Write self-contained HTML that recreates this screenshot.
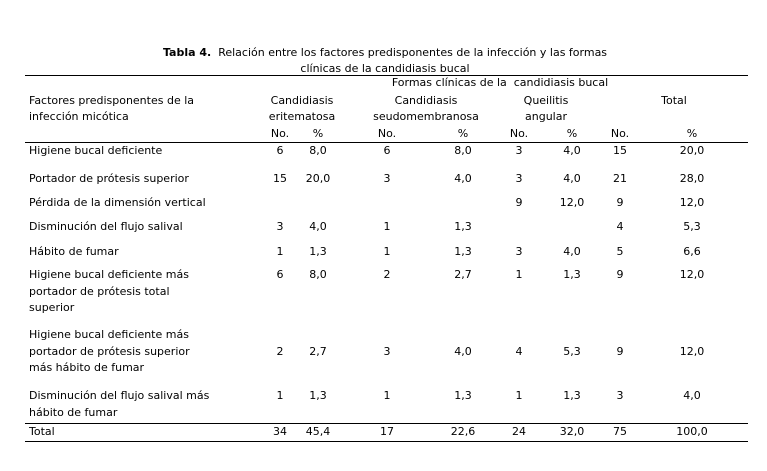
<!DOCTYPE html>
<html><head><meta charset="utf-8"><style>
body{margin:0;width:767px;height:471px;background:#fff;position:relative;font-family:"DejaVu Sans","Liberation Sans",sans-serif;font-size:11px;color:#000;overflow:hidden}
.t{position:absolute;line-height:16px;white-space:nowrap}
.c{position:absolute;line-height:16px;white-space:nowrap;transform:translateX(-50%)}
.l{position:absolute;left:25px;width:723px;height:1px;background:#000}
</style></head><body>
<div class="c" style="left:385px;top:45px"><b>Tabla 4.</b>&nbsp; Relación entre los factores predisponentes de la infección y las formas</div>
<div class="c" style="left:385px;top:61px">clínicas de la candidiasis bucal</div>
<div class="l" style="top:75px"></div>
<div class="l" style="top:142px"></div>
<div class="l" style="top:423px"></div>
<div class="l" style="top:441px"></div>
<div class="c" style="left:500px;top:75px">Formas clínicas de la&nbsp; candidiasis bucal</div>
<div class="t" style="left:29px;top:93px">Factores predisponentes de la</div>
<div class="t" style="left:29px;top:109px">infección micótica</div>
<div class="c" style="left:302px;top:93px">Candidiasis</div>
<div class="c" style="left:302px;top:109px">eritematosa</div>
<div class="c" style="left:426px;top:93px">Candidiasis</div>
<div class="c" style="left:426px;top:109px">seudomembranosa</div>
<div class="c" style="left:546px;top:93px">Queilitis</div>
<div class="c" style="left:546px;top:109px">angular</div>
<div class="c" style="left:674px;top:93px">Total</div>
<div id="rows"></div>
<script>
var cols=[280,318,387,463,519,572,620,692];
var rows=[
[126,["No.","%","No.","%","No.","%","No.","%"],[]],
[143,["6","8,0","6","8,0","3","4,0","15","20,0"],["Higiene bucal deficiente"]],
[171,["15","20,0","3","4,0","3","4,0","21","28,0"],["Portador de prótesis superior"]],
[195,["","","","","9","12,0","9","12,0"],["Pérdida de la dimensión vertical"]],
[219,["3","4,0","1","1,3","","","4","5,3"],["Disminución del flujo salival"]],
[244,["1","1,3","1","1,3","3","4,0","5","6,6"],["Hábito de fumar"]],
[267,["6","8,0","2","2,7","1","1,3","9","12,0"],["Higiene bucal deficiente más","portador de prótesis total","superior"]],
[344,["2","2,7","3","4,0","4","5,3","9","12,0"],[]],
[388,["1","1,3","1","1,3","1","1,3","3","4,0"],["Disminución del flujo salival más","hábito de fumar"]],
[424,["34","45,4","17","22,6","24","32,0","75","100,0"],["Total"]]
];
var h="";
rows.forEach(function(r){
 r[1].forEach(function(v,i){if(v)h+='<div class="c" style="left:'+cols[i]+'px;top:'+r[0]+'px">'+v+'</div>';});
 r[2].forEach(function(s,j){h+='<div class="t" style="left:29px;top:'+(r[0]+j*16.5)+'px">'+s+'</div>';});
});
["Higiene bucal deficiente más","portador de prótesis superior","más hábito de fumar"].forEach(function(s,j){h+='<div class="t" style="left:29px;top:'+(327+j*16.5)+'px">'+s+'</div>';});
document.getElementById("rows").innerHTML=h;
</script>
</body></html>
